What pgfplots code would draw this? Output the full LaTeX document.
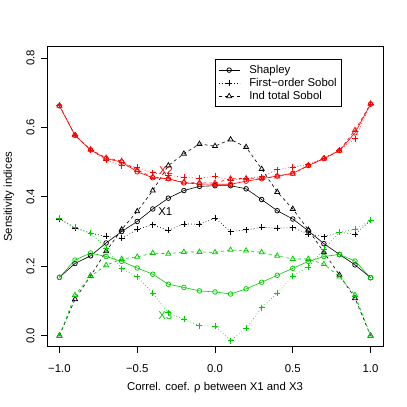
\documentclass[border=0pt]{standalone}
\usepackage{pgfplots}
\usepackage{pgfplotstable}
\pgfplotsset{compat=1.18}
\usepackage{fontspec}
\setmainfont{Liberation Sans}
\definecolor{rgreen}{RGB}{0,205,0}
\definecolor{rred}{RGB}{255,0,0}
\newcommand{\fs}{\fontsize{11.4}{13.7}\selectfont}

\pgfplotstableread{
x     s1    f1    t1    s2    f2    t2    s3    f3    t3
-1.0 0.168 0.336 0.000 0.662 0.664 0.662 0.168 0.338 0.000
-0.9 0.208 0.310 0.105 0.577 0.578 0.577 0.218 0.312 0.117
-0.8 0.230 0.295 0.172 0.535 0.535 0.536 0.238 0.295 0.171
-0.7 0.267 0.286 0.243 0.510 0.505 0.512 0.228 0.252 0.203
-0.6 0.300 0.280 0.306 0.500 0.490 0.503 0.214 0.193 0.221
-0.5 0.329 0.306 0.358 0.472 0.485 0.477 0.195 0.170 0.227
-0.4 0.365 0.320 0.418 0.455 0.469 0.457 0.177 0.122 0.238
-0.3 0.396 0.303 0.490 0.452 0.462 0.452 0.148 0.066 0.236
-0.2 0.418 0.322 0.524 0.440 0.456 0.442 0.139 0.047 0.241
-0.1 0.430 0.321 0.552 0.437 0.454 0.440 0.129 0.029 0.241
0.0 0.432 0.339 0.546 0.436 0.459 0.440 0.126 0.027 0.240
0.1 0.432 0.300 0.565 0.436 0.448 0.452 0.120 -0.014 0.247
0.2 0.423 0.305 0.543 0.445 0.452 0.453 0.135 0.021 0.245
0.3 0.392 0.312 0.480 0.452 0.458 0.454 0.154 0.081 0.240
0.4 0.360 0.310 0.414 0.460 0.478 0.458 0.174 0.122 0.230
0.5 0.336 0.311 0.365 0.468 0.486 0.466 0.194 0.172 0.221
0.6 0.302 0.293 0.305 0.490 0.493 0.490 0.214 0.198 0.221
0.7 0.265 0.285 0.240 0.510 0.512 0.510 0.228 0.249 0.206
0.8 0.234 0.298 0.175 0.533 0.535 0.533 0.234 0.298 0.170
0.9 0.204 0.292 0.108 0.584 0.567 0.592 0.215 0.306 0.117
1.0 0.167 0.332 0.000 0.667 0.667 0.668 0.167 0.332 0.000
}\datatab

\pgfplotsset{
  shap/.style={solid, line width=0.6bp, mark=o, mark size=2.3bp, mark options={solid, line width=0.75bp}},
  fos/.style={dash pattern=on 0.75bp off 2.25bp, line width=0.6bp, mark=+, mark size=3bp, mark options={solid, line width=0.75bp}},
  its/.style={dash pattern=on 3bp off 3bp, line width=0.6bp, mark=triangle, mark size=2.9bp, mark options={solid, line width=0.75bp}},
}

\begin{document}
\begin{tikzpicture}
\path[use as bounding box] (0,0) rectangle (407bp,407bp);
\begin{axis}[
  at={(47bp,60.2bp)}, anchor=south west,
  scale only axis, width=336bp, height=300bp,
  xmin=-1.08, xmax=1.08, ymin=-0.032, ymax=0.832,
  axis line style={line width=0.75bp},
  xtick={-1,-0.5,0,0.5,1},
  xticklabels={−1.0,−0.5,0.0,0.5,1.0},
  ytick={0,0.2,0.4,0.6,0.8},
  yticklabels={0.0,0.2,0.4,0.6,0.8},
  tick align=outside, major tick length=6bp,
  tick style={line width=0.75bp, black},
  tick pos=left,
  xticklabel shift=8bp,
  yticklabel shift=3bp,
  xticklabel style={font=\fs, anchor=north},
  yticklabel style={font=\fs, rotate=90, anchor=south},
  xlabel={Correl. coef. ρ between X1 and X3},
  xlabel style={font=\fs, at={(axis description cs:0.5,-0.137)}, anchor=center},
  ylabel={Sensitivity indices},
  ylabel style={font=\fs, at={(axis description cs:-0.113,0.5)}, anchor=center},
  legend style={at={(axis description cs:0.5,0.959)}, anchor=north west,
    draw=black, line width=0.75bp, fill=white, inner xsep=3bp, inner ysep=4.5bp,
    font=\fs, row sep=0.7bp, nodes={inner sep=1.3bp},
    /tikz/every odd column/.append style={column sep=8bp}},
  legend cell align=left,
  legend image code/.code={\draw[mark repeat=2,mark phase=2,#1] plot coordinates {(0bp,0bp) (10.5bp,0bp) (21bp,0bp)};},
]
\addlegendimage{black, shap}
\addlegendentry{Shapley}
\addlegendimage{black, fos}
\addlegendentry{First−order Sobol}
\addlegendimage{black, its}
\addlegendentry{Ind total Sobol}

\addplot[black, shap, forget plot] table[x=x, y=s1] {\datatab};
\addplot[black, fos, forget plot] table[x=x, y=f1] {\datatab};
\addplot[black, its, forget plot] table[x=x, y=t1] {\datatab};
\addplot[rred, shap, forget plot] table[x=x, y=s2] {\datatab};
\addplot[rred, fos, forget plot] table[x=x, y=f2] {\datatab};
\addplot[rred, its, forget plot] table[x=x, y=t2] {\datatab};
\addplot[rgreen, shap, forget plot] table[x=x, y=s3] {\datatab};
\addplot[rgreen, fos, forget plot] table[x=x, y=f3] {\datatab};
\addplot[rgreen, its, forget plot] table[x=x, y=t3] {\datatab};

\node[text=rred, font=\fs] at (axis cs:-0.315,0.475) {X2};
\node[text=black, font=\fs] at (axis cs:-0.32,0.357) {X1};
\node[text=rgreen, font=\fs] at (axis cs:-0.32,0.057) {X3};
\end{axis}
\end{tikzpicture}
\end{document}
